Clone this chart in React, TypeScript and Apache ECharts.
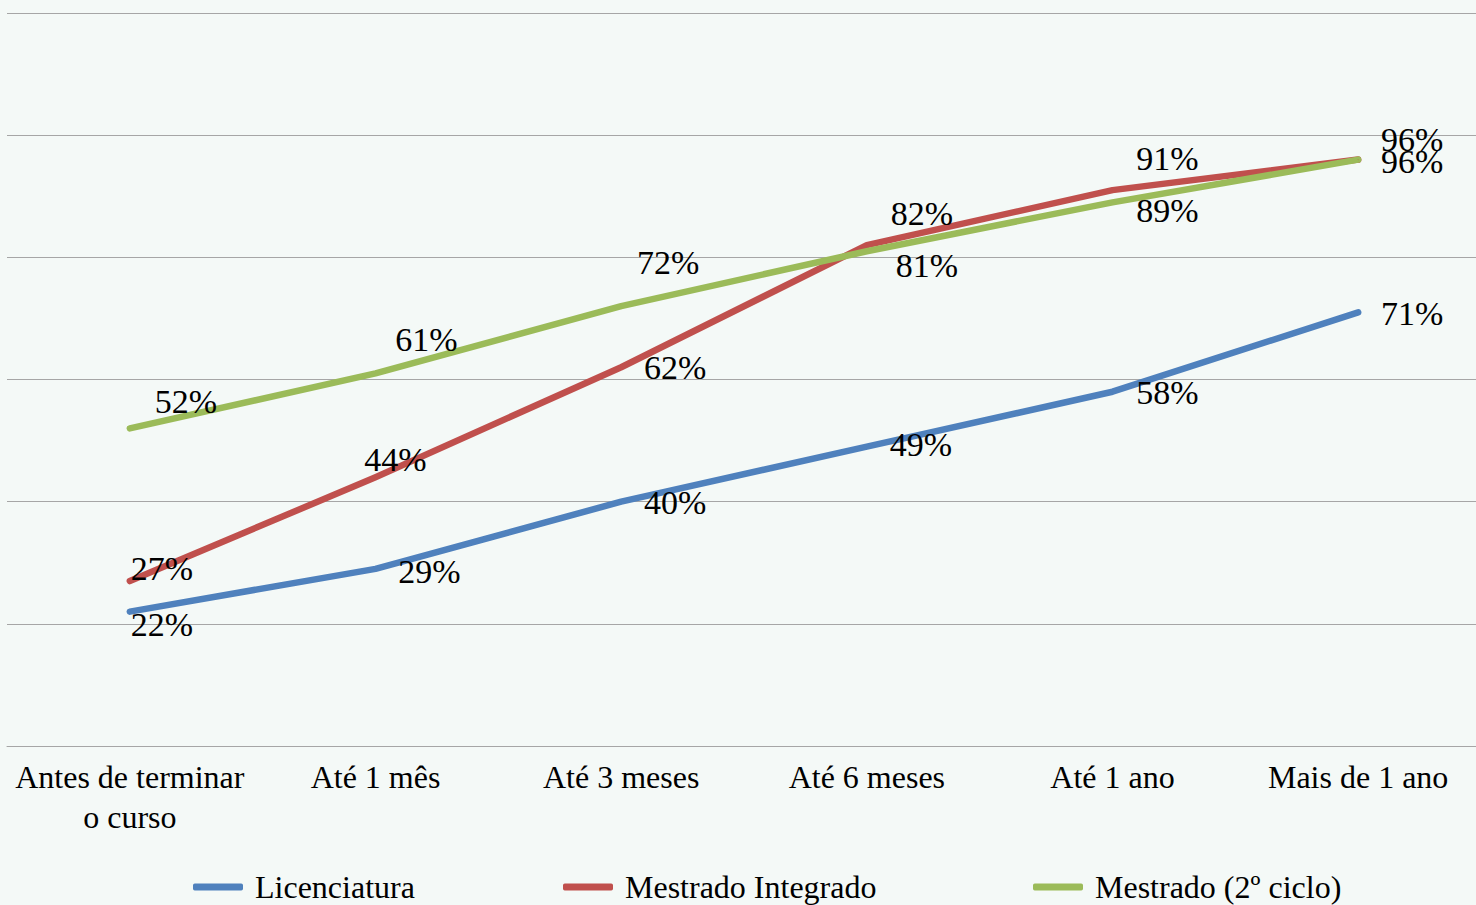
import React, { useEffect, useRef } from "react";
import * as echarts from "echarts";

const categories = ["Antes de terminar\no curso", "Até 1 mês", "Até 3 meses", "Até 6 meses", "Até 1 ano", "Mais de 1 ano"];
const licenciatura = [22, 29, 40, 49, 58, 71];
const mestradoIntegrado = [27, 44, 62, 82, 91, 96];
const mestrado2 = [52, 61, 72, 81, 89, 96];
const seriesNames = ["Licenciatura", "Mestrado Integrado", "Mestrado (2º ciclo)"];
const colors = ["#4F81BD", "#C0504D", "#9BBB59"];

// label offsets (layout only), relative to each point
const offsLic = [[32, 13], [54, 3], [54, 1], [54, -2], [55, 1], [54, 1]];
const offsMI = [[32, -13], [20, -18], [54, 0], [55, -32], [55, -32], [54, -20]];
const offsM2 = [[56, -27], [51, -34], [47, -44], [60, 14], [55, 8], [54, 2]];

const FONT = "Liberation Serif";

function makeSeries(name: string, values: number[], color: string, offs: number[][]) {
  return {
    name,
    type: "line",
    symbol: "circle",
    symbolSize: 1,
    showSymbol: true,
    lineStyle: { width: 6.5, color, cap: "round", join: "round" },
    itemStyle: { color },
    data: values.map((v, i) => ({
      value: v,
      label: { offset: offs[i] },
    })),
    label: {
      show: true,
      position: "inside",
      formatter: (p: any) => `${p.value}%`,
      fontFamily: FONT,
      fontSize: 34,
      color: "#000",
    },
    emphasis: { disabled: true },
  };
}

export default function App() {
  const ref = useRef<HTMLDivElement>(null);
  useEffect(() => {
    document.body.style.margin = "0";
    document.body.style.overflow = "hidden";
    const chart = echarts.init(ref.current!, null, { renderer: "svg" });
    const legendBase = {
      top: 870,
      padding: 0,
      itemWidth: 50,
      itemHeight: 7,
      itemGap: 12,
      icon: "roundRect",
      textStyle: { fontFamily: FONT, fontSize: 32, lineHeight: 34, color: "#000", padding: [0, 0, 0, 7] },
    };
    chart.setOption({
      animation: false,
      backgroundColor: "#F4F9F7",
      color: colors,
      grid: { left: 7, right: 0, top: 13, bottom: 159, containLabel: false },
      legend: [
        { ...legendBase, left: 193, data: [seriesNames[0]] },
        { ...legendBase, left: 563, data: [seriesNames[1]] },
        { ...legendBase, left: 1033, data: [seriesNames[2]] },
      ],
      xAxis: {
        type: "category",
        data: categories,
        boundaryGap: true,
        axisLine: { show: true, lineStyle: { color: "#A6A6A6", width: 1 } },
        axisTick: { show: false },
        axisLabel: {
          interval: 0,
          margin: 11,
          fontFamily: FONT,
          fontSize: 32,
          lineHeight: 40,
          color: "#000",
        },
      },
      yAxis: {
        type: "value",
        min: 0,
        max: 120,
        interval: 20,
        axisLabel: { show: false },
        axisLine: { show: false },
        axisTick: { show: false },
        splitLine: { show: true, lineStyle: { color: "#A6A6A6", width: 1 } },
      },
      series: [
        makeSeries(seriesNames[0], licenciatura, colors[0], offsLic),
        makeSeries(seriesNames[1], mestradoIntegrado, colors[1], offsMI),
        makeSeries(seriesNames[2], mestrado2, colors[2], offsM2),
      ],
    });
    return () => chart.dispose();
  }, []);
  return (
    <div style={{ width: 1476, height: 905, overflow: "hidden", background: "#F4F9F7" }}>
      <div ref={ref} style={{ width: 1481, height: 905 }} />
    </div>
  );
}
